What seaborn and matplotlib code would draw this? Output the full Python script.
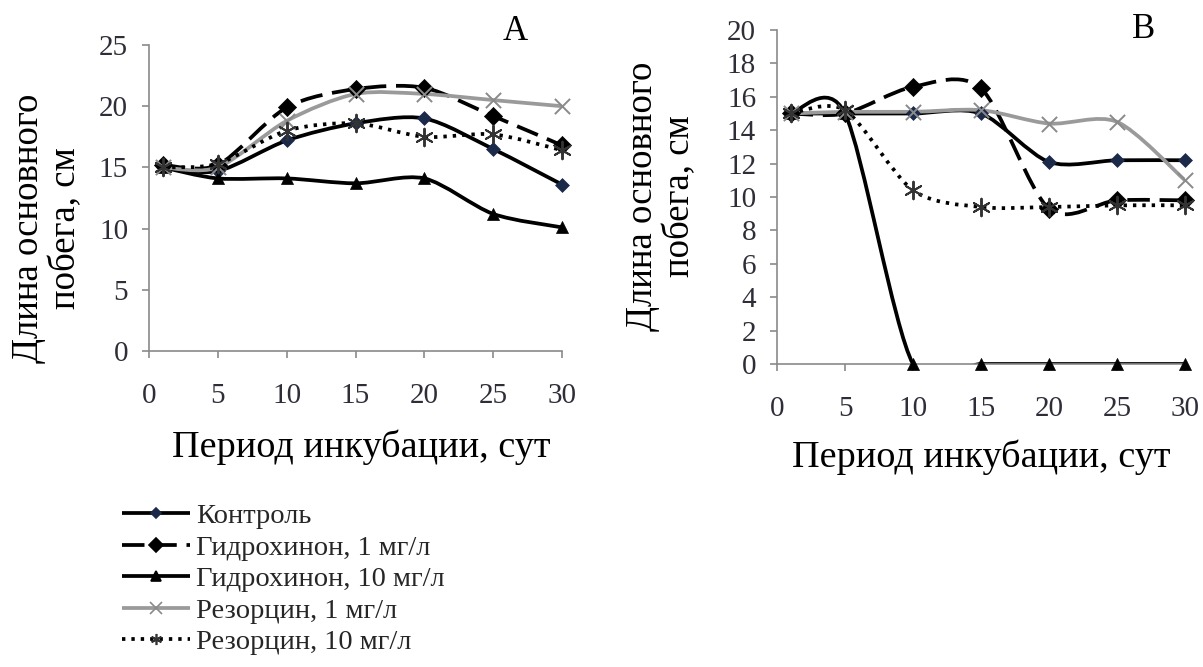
import numpy as np
import pandas as pd
import matplotlib
matplotlib.use("Agg")
import matplotlib.pyplot as plt
import seaborn as sns
from matplotlib.path import Path
from matplotlib.patches import PathPatch
from matplotlib.lines import Line2D

# ---------------- data ----------------
days = [1, 5, 10, 15, 20, 25, 30]
x_ticks = [0, 5, 10, 15, 20, 25, 30]

series_names = ["Контроль", "Гидрохинон, 1 мг/л", "Гидрохинон, 10 мг/л",
                "Резорцин, 1 мг/л", "Резорцин, 10 мг/л"]

control_A = [15.0, 14.7, 17.2, 18.6, 19.0, 16.5, 13.6]
hq1_A = [15.2, 15.2, 19.9, 21.4, 21.5, 19.2, 16.8]
hq10_A = [15.0, 14.1, 14.1, 13.7, 14.1, 11.2, 10.1]
res1_A = [15.0, 15.0, 18.8, 21.0, 21.0, 20.5, 20.0]
res10_A = [15.0, 15.3, 18.0, 18.6, 17.5, 17.7, 16.4]

control_B = [15.0, 15.0, 15.0, 15.0, 12.1, 12.2, 12.2]
hq1_B = [15.0, 15.0, 16.6, 16.5, 9.3, 9.8, 9.8]
hq10_B = [15.0, 15.0, 0.0, 0.0, 0.0, 0.0, 0.0]
res1_B = [15.0, 15.1, 15.1, 15.2, 14.4, 14.5, 11.0]
res10_B = [15.0, 15.2, 10.4, 9.4, 9.4, 9.5, 9.5]

yticks_A = [0, 5, 10, 15, 20, 25]
yticks_B = [0, 2, 4, 6, 8, 10, 12, 14, 16, 18, 20]

xlabel = "Период инкубации, сут"
ylabel = "Длина основного\nпобега, см"

# ---------------- style ----------------
sns.set_theme(style="white")
plt.rcParams["font.family"] = ["Liberation Serif", "DejaVu Serif"]

W, H = 1203, 667
fig = plt.figure(figsize=(W / 100, H / 100), dpi=100)

def fx(px):
    return px / W

def fy(py):
    return 1 - py / H

axA = fig.add_axes([fx(149), fy(351), fx(562 - 149), (351 - 45) / H])
axB = fig.add_axes([fx(777), fy(364), fx(1185 - 777), (364 - 30) / H])

LW = 2.7
styles = [
    dict(color="black", ls=(0, ()), marker="D", mcolor="#1c2a4a", ms=50, lw=LW),
    dict(color="black", ls=(0, (6, 2.6)), marker="D", mcolor="black", ms=85, lw=LW),
    dict(color="black", ls=(0, ()), marker="^", mcolor="black", ms=75, lw=LW),
    dict(color="#9a9a9a", ls=(0, ()), marker="x", mcolor="#8a8a8a", ms=120, lw=LW),
    dict(color="black", ls=(0, (0.9, 1.6)), marker=(6, 2, 0), mcolor="#333333", ms=160, lw=LW),
]

def smooth_path(xs, ys, k=7.0):
    pts = np.column_stack([xs, ys]).astype(float)
    n = len(pts)
    verts = [pts[0]]
    codes = [Path.MOVETO]
    for i in range(n - 1):
        p0 = pts[i - 1] if i > 0 else pts[i]
        p1 = pts[i]
        p2 = pts[i + 1]
        p3 = pts[i + 2] if i + 2 < n else pts[i + 1]
        c1 = p1 + (p2 - p0) / k
        c2 = p2 - (p3 - p1) / k
        verts += [c1, c2, p2]
        codes += [Path.CURVE4] * 3
    return Path(verts, codes)

def draw_panel(ax, data, yticks, ymax, letter, letter_xy):
    for vals, st, name in zip(data, styles, series_names):
        patch = PathPatch(smooth_path(days, vals), fill=False, edgecolor=st["color"],
                          lw=st["lw"], zorder=2, capstyle="butt")
        patch.set_linestyle(st["ls"])
        ax.add_patch(patch)
        df = pd.DataFrame({"day": days, "val": vals})
        kw = dict(marker=st["marker"], s=st["ms"], color=st["mcolor"], ax=ax,
                  zorder=3, clip_on=False)
        if st["marker"] in ("D", "^"):
            kw["edgecolor"] = st["mcolor"]
            kw["linewidth"] = 0.5
        else:
            kw["linewidth"] = 1.4
        sns.scatterplot(data=df, x="day", y="val", **kw)
    ax.set_xlim(0, 30)
    ax.set_ylim(0, ymax)
    ax.set_xticks(x_ticks)
    ax.set_yticks(yticks)
    ax.set_xlabel("")
    ax.set_ylabel("")
    for s in ("top", "right"):
        ax.spines[s].set_visible(False)
    for s in ("left", "bottom"):
        ax.spines[s].set_color("#8a8a8a")
        ax.spines[s].set_linewidth(1.2)
    ax.tick_params(axis="both", which="major", direction="out", length=5, width=1.2,
                   color="#8a8a8a", labelsize=21, labelcolor="#2e2e38")
    ax.tick_params(axis="y", pad=10, left=True)
    ax.tick_params(axis="x", pad=18, bottom=True)
    ax.set_facecolor("white")
    fig.text(fx(letter_xy[0]), fy(letter_xy[1]), letter, fontsize=25,
             ha="center", va="center", color="black")

draw_panel(axA, [control_A, hq1_A, hq10_A, res1_A, res10_A], yticks_A, 25, "A", (515, 32))
draw_panel(axB, [control_B, hq1_B, hq10_B, res1_B, res10_B], yticks_B, 20, "B", (1144, 30))

# axis labels
fig.text(fx(361), fy(447), xlabel, fontsize=27.5, ha="center", va="center", color="black")
fig.text(fx(981), fy(457), xlabel, fontsize=27.5, ha="center", va="center", color="black")
fig.text(fx(47), fy(228), ylabel, fontsize=26.5, ha="center", va="center", rotation=90,
         multialignment="center", linespacing=1.1, color="black")
fig.text(fx(661), fy(196), ylabel, fontsize=26.5, ha="center", va="center", rotation=90,
         multialignment="center", linespacing=1.1, color="black")

# legend
handles = []
for i, (st, name) in enumerate(zip(styles, series_names)):
    mk = st["marker"]
    if i == 0:
        msz = 5
    elif mk == "D":
        msz = 7
    elif mk == "^":
        msz = 7
    else:
        msz = 8
    h = Line2D([0], [0], color=st["color"], lw=st["lw"], linestyle=st["ls"],
               marker=mk, markersize=msz, markerfacecolor=st["mcolor"],
               markeredgecolor=st["mcolor"], markeredgewidth=1.2)
    handles.append(h)
fig.legend(handles, series_names, loc="upper left",
           bbox_to_anchor=(fx(122), fy(503)), frameon=False, fontsize=20.5,
           handlelength=2.4, handletextpad=0.2, labelspacing=0.2,
           borderaxespad=0, borderpad=0)

fig.savefig("out.png", dpi=100, facecolor="white")
